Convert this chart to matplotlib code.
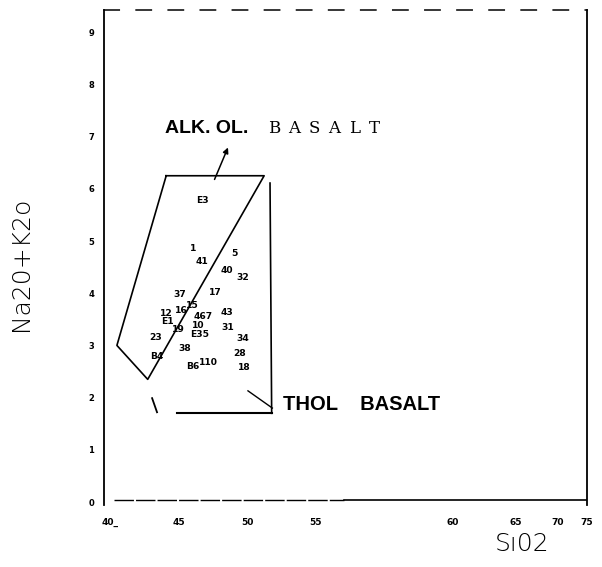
import matplotlib
matplotlib.use('Agg')
import matplotlib.pyplot as plt

# point labels (SiO2, Na2O+K2O)
labels = ['E3', '1', '41', '5', '40', '32', '17', '37', '12', 'E1', '16', '15', '467',
          '43', '23', '19', '10', 'E35', '31', '34', '28', '38', 'B4', 'B6', '110', '18']
sio2 = [46.72, 46.06, 46.72, 49.05, 48.54, 49.71, 47.66, 45.11, 44.1, 44.16, 45.2, 46.0, 46.8,
        48.54, 43.36, 44.96, 46.42, 46.57, 48.61, 49.71, 49.49, 45.47, 43.43, 46.06, 47.2, 49.78]
alk = [5.77, 4.85, 4.60, 4.77, 4.44, 4.31, 4.02, 3.97, 3.62, 3.45, 3.66, 3.76, 3.56,
       3.64, 3.16, 3.30, 3.39, 3.20, 3.35, 3.14, 2.84, 2.95, 2.78, 2.59, 2.68, 2.57]

# field boundaries
alk_field_x = [44.1, 51.25, 42.75, 40.5, 44.1]
alk_field_y = [6.25, 6.25, 2.35, 3.0, 6.25]
thol_base_x = [44.9, 51.8]
thol_base_y = [1.70, 1.70]
thol_side_x = [51.68, 51.8]
thol_side_y = [6.11, 1.70]
thol_stub_x = [43.07, 43.43]
thol_stub_y = [1.99, 1.72]
thol_lead_x = [50.07, 51.85]
thol_lead_y = [2.13, 1.80]

xtick_pos = [40, 45, 50, 55, 65, 69.6, 72.7, 74.8]
xtick_lab = ['40_', '45', '50', '55', '60', '65', '70', '75']
ytick_pos = [0, 1, 2, 3, 4, 5, 6, 7, 8, 9]
ytick_lab = ['0', '1', '2', '3', '4', '5', '6', '7', '8', '9']

fig = plt.figure(figsize=(6.02, 5.67), dpi=100)
ax = fig.add_axes([0.1728, 0.1093, 0.8022, 0.8731])
ax.set_xlim(39.56, 74.82)
ax.set_ylim(-0.057, 9.425)

for s in ['left', 'right']:
    ax.spines[s].set_linewidth(1.3)
ax.spines['top'].set_linewidth(1.1)
ax.spines['top'].set_linestyle((0, (10, 11)))
ax.spines['bottom'].set_visible(False)
# broken lower frame line as on the scan
ax.plot([40.3, 57.1], [0.03, 0.03], color='k', lw=1.0, ls=(0, (14, 1.5)))
ax.plot([57.1, 74.82], [0.03, 0.03], color='k', lw=1.2)

ax.set_xticks(xtick_pos)
ax.set_xticklabels(xtick_lab, fontsize=6.5, fontweight='bold')
ax.set_yticks(ytick_pos)
ax.set_yticklabels(ytick_lab, fontsize=6, fontweight='bold')
ax.tick_params(axis='x', length=0, pad=9)
ax.tick_params(axis='y', length=0, pad=7)

ax.plot(alk_field_x, alk_field_y, color='k', lw=1.2)
ax.plot(thol_base_x, thol_base_y, color='k', lw=1.5)
ax.plot(thol_side_x, thol_side_y, color='k', lw=1.2)
ax.plot(thol_stub_x, thol_stub_y, color='k', lw=1.3)
ax.plot(thol_lead_x, thol_lead_y, color='k', lw=1.0)

for lab, x, y in zip(labels, sio2, alk):
    ax.text(x, y, lab, fontsize=6.6, fontweight='bold', ha='center', va='center')

ax.annotate('', xy=(48.69, 6.84), xytext=(47.55, 6.13),
            arrowprops=dict(arrowstyle='-|>', color='k', lw=1.1, mutation_scale=8))

ax.text(44.02, 7.07, 'ALK. OL.', fontsize=14, fontweight='bold', family='Liberation Sans',
        ha='left', va='baseline')
# typewriter-style word, letters spread out as on the scan
for i, ch in enumerate('BASALT'):
    ax.annotate(ch, xy=(52.0, 7.07), xytext=(i * 14.4, 0), textcoords='offset points',
                fontsize=12, family='DejaVu Serif', ha='center', va='baseline')
ax.text(52.6, 1.86, 'THOL    BASALT', fontsize=14.5, fontweight='bold', family='Liberation Sans',
        ha='left', va='center')

fig.text(0.035, 0.535, 'Na20+K2o', rotation=90, fontsize=18, ha='center', va='center',
         family='DejaVu Sans', fontweight='light')
fig.text(0.867, 0.04, 'S\u013102', fontsize=18, ha='center', va='center',
         family='DejaVu Sans', fontweight='light')

fig.savefig('out.png', dpi=100)
